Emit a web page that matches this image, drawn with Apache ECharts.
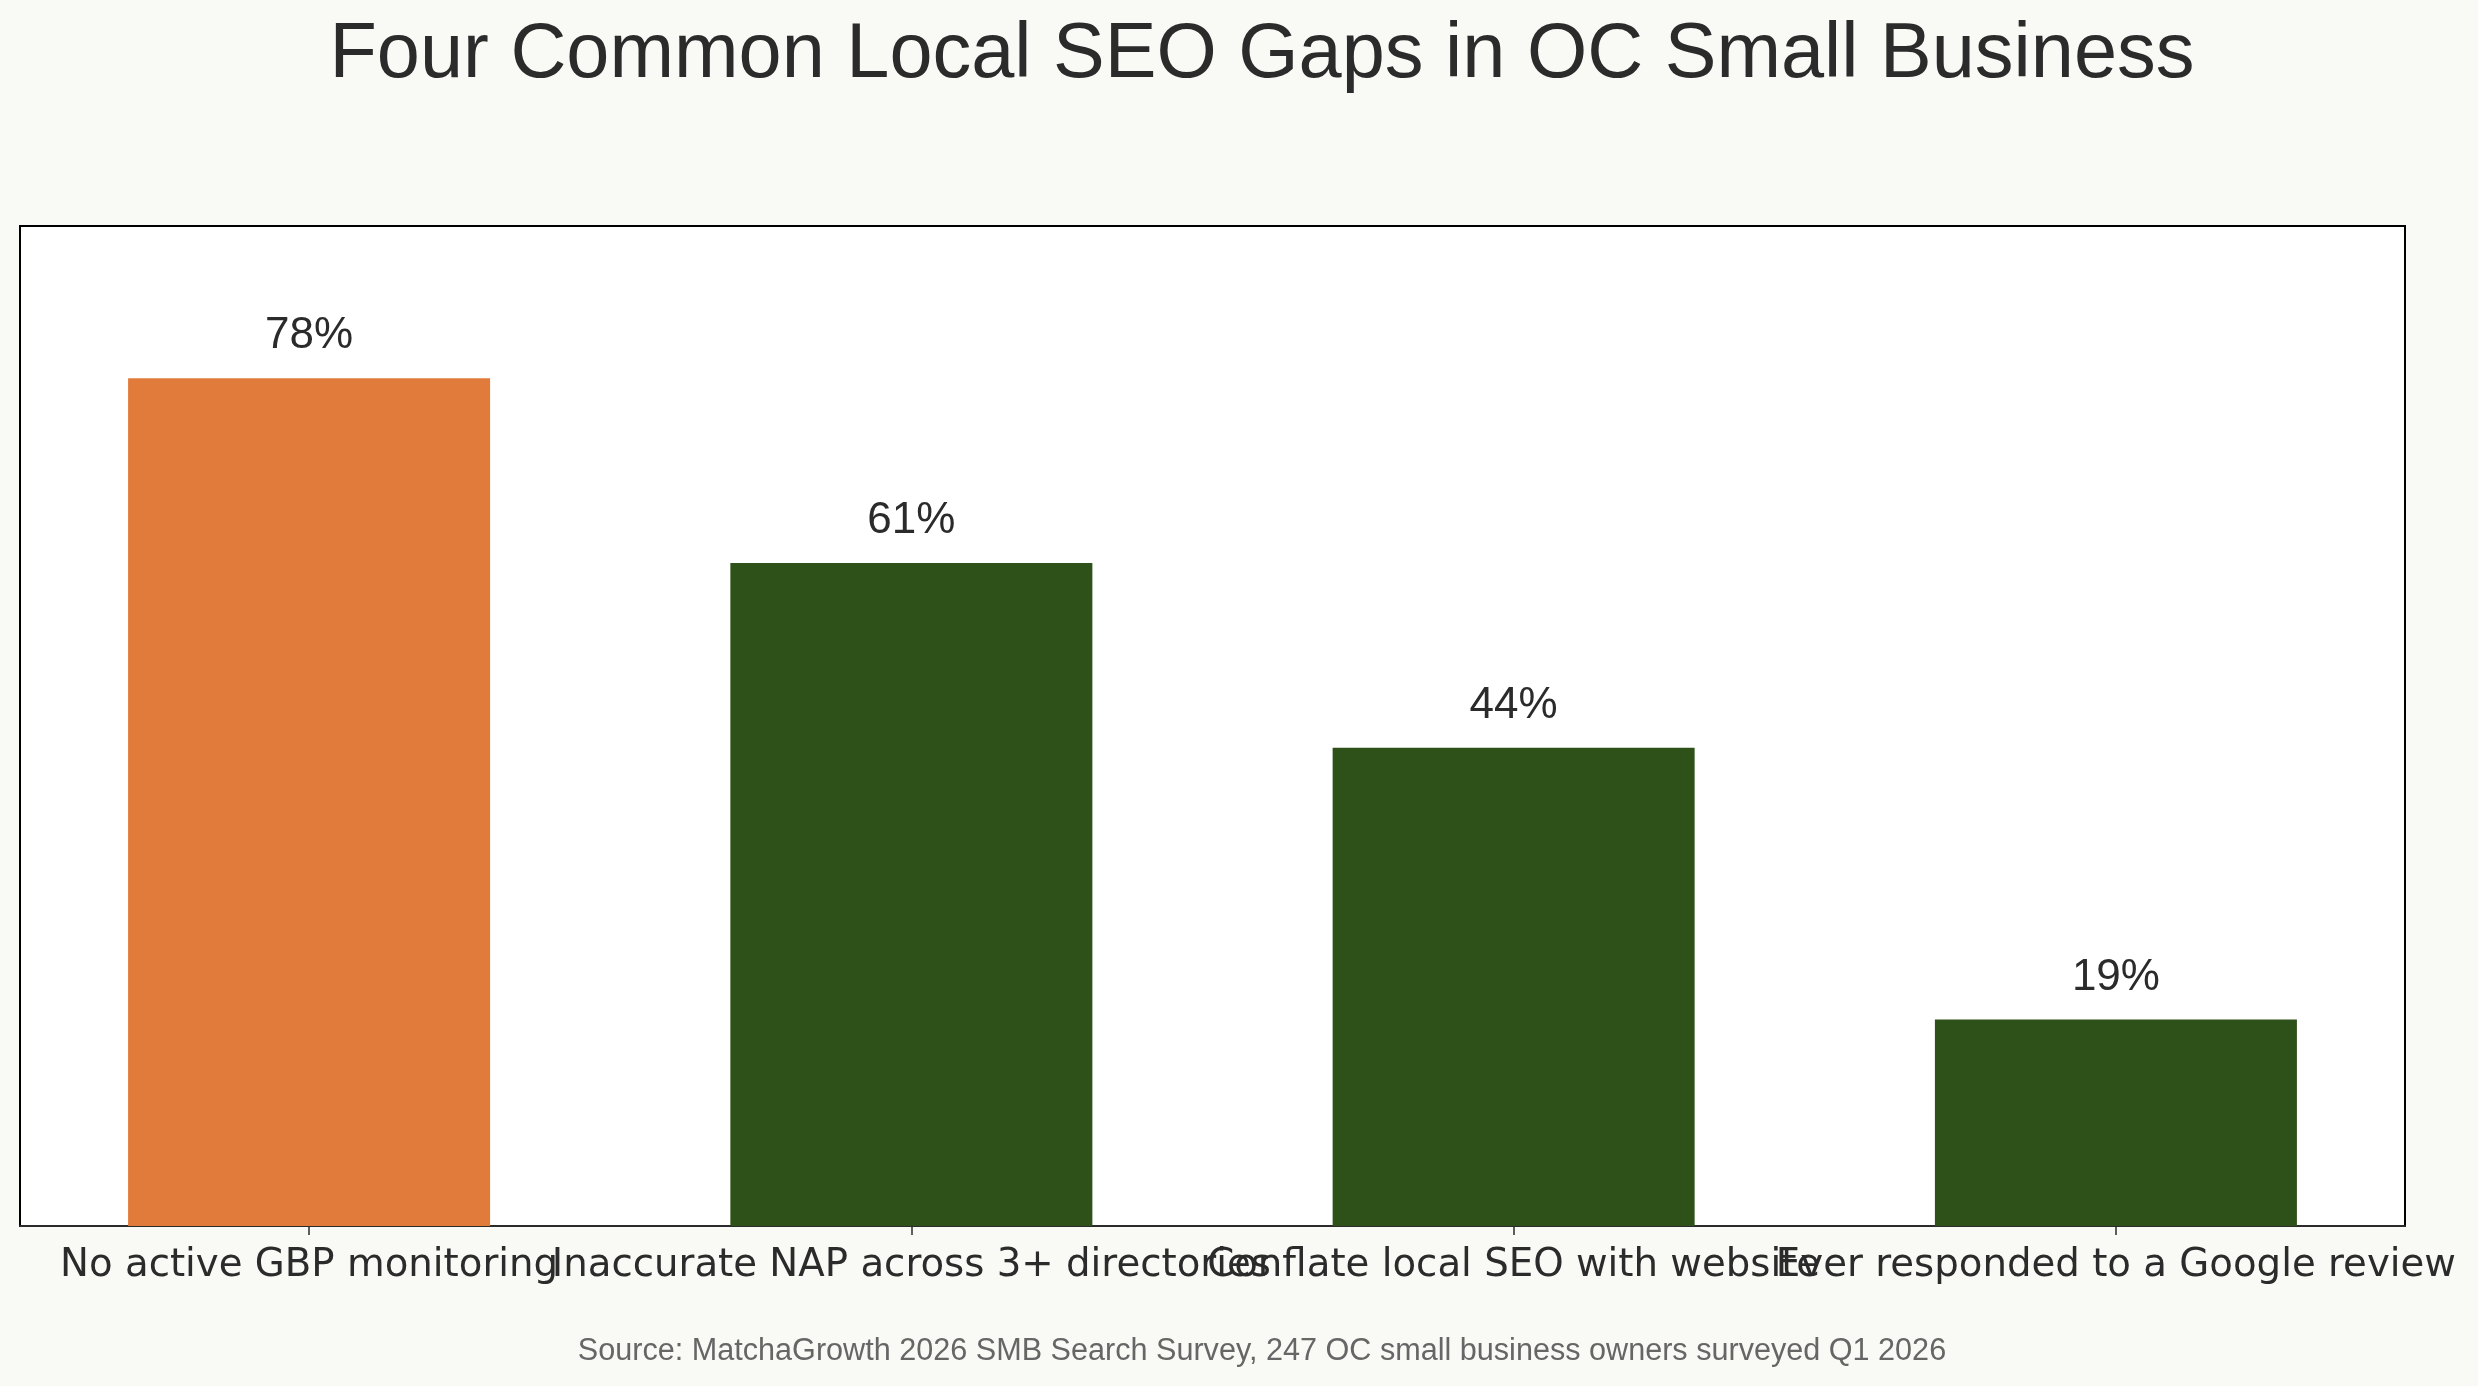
<!DOCTYPE html>
<html>
<head>
<meta charset="utf-8">
<script src="https://cdn.jsdelivr.net/npm/echarts@6/dist/echarts.min.js"></script>
<style>
  html, body { margin: 0; padding: 0; background: #f9f9f5; }
  #chart { width: 2478px; height: 1386px; }
</style>
</head>
<body>
<div id="chart"></div>
<script>
// 数据
var categories = [
    'No active GBP monitoring',
    'Inaccurate NAP across 3+ directories',
    'Conflate local SEO with website',
    'Ever responded to a Google review'
];
var values = [78, 61, 44, 19];
var barColors = ['#e07b3b', '#2e5019', '#2e5019', '#2e5019'];
var catIndex = [0, 1, 2, 3];
// 标签互相重叠, 分两条轴画, 避免被自动隐藏
var evenIndex = [0, 2];
var oddIndex = [1, 3];

var titleText = 'Four Common Local SEO Gaps in OC Small Business';
var sourceText = 'Source: MatchaGrowth 2026 SMB Search Survey, 247 OC small business owners surveyed Q1 2026';

var dom = document.getElementById('chart');
var myChart = echarts.init(dom, null, { renderer: 'canvas' });

function catAxis(idx, showLine) {
    return {
        type: 'value',
        position: 'bottom',
        min: -0.48,
        max: 3.48,
        axisLine: {
            show: showLine,
            onZero: false,
            lineStyle: { color: '#2b2b2b', width: 2 }
        },
        axisTick: {
            show: true,
            customValues: idx,
            length: 9,
            lineStyle: { color: '#2b2b2b', width: 1.5 }
        },
        axisLabel: {
            customValues: idx,
            hideOverlap: false,
            margin: 20,
            fontFamily: 'DejaVu Sans',
            fontSize: 38.7,
            color: '#2b2b2b',
            formatter: function (v) {
                return categories[Math.round(v)] || '';
            }
        },
        splitLine: { show: false }
    };
}

var option = {
    backgroundColor: '#f9f9f5',
    animation: false,
    title: [{
        text: titleText,
        left: 1257,
        top: 12,
        textAlign: 'center',
        textStyle: {
            fontFamily: 'Liberation Sans',
            fontSize: 77.5,
            fontWeight: 'normal',
            color: '#2b2b2b'
        }
    }, {
        text: sourceText,
        left: 1257,
        top: 1331,
        textAlign: 'center',
        textStyle: {
            fontFamily: 'Liberation Sans',
            fontSize: 30.6,
            fontWeight: 'normal',
            color: '#666666'
        }
    }],
    grid: {
        left: 20,
        top: 226,
        width: 2385,
        height: 1000,
        show: true,
        backgroundColor: '#ffffff',
        borderColor: '#000000',
        borderWidth: 2,
        containLabel: false,
        outerBoundsMode: 'none'
    },
    xAxis: [catAxis(evenIndex, true), catAxis(oddIndex, false)],
    yAxis: {
        type: 'value',
        min: 0,
        max: 92,
        show: false,
        splitLine: { show: false }
    },
    series: [{
        type: 'bar',
        xAxisIndex: 0,
        barWidth: 362,
        data: values.map(function (v, i) {
            return { value: [catIndex[i], v], itemStyle: { color: barColors[i] } };
        }),
        label: {
            show: true,
            position: 'top',
            distance: 20,
            formatter: function (p) { return p.value[1] + '%'; },
            fontFamily: 'Liberation Sans',
            fontSize: 44,
            color: '#2b2b2b'
        }
    }]
};

myChart.setOption(option, true);
</script>
</body>
</html>
